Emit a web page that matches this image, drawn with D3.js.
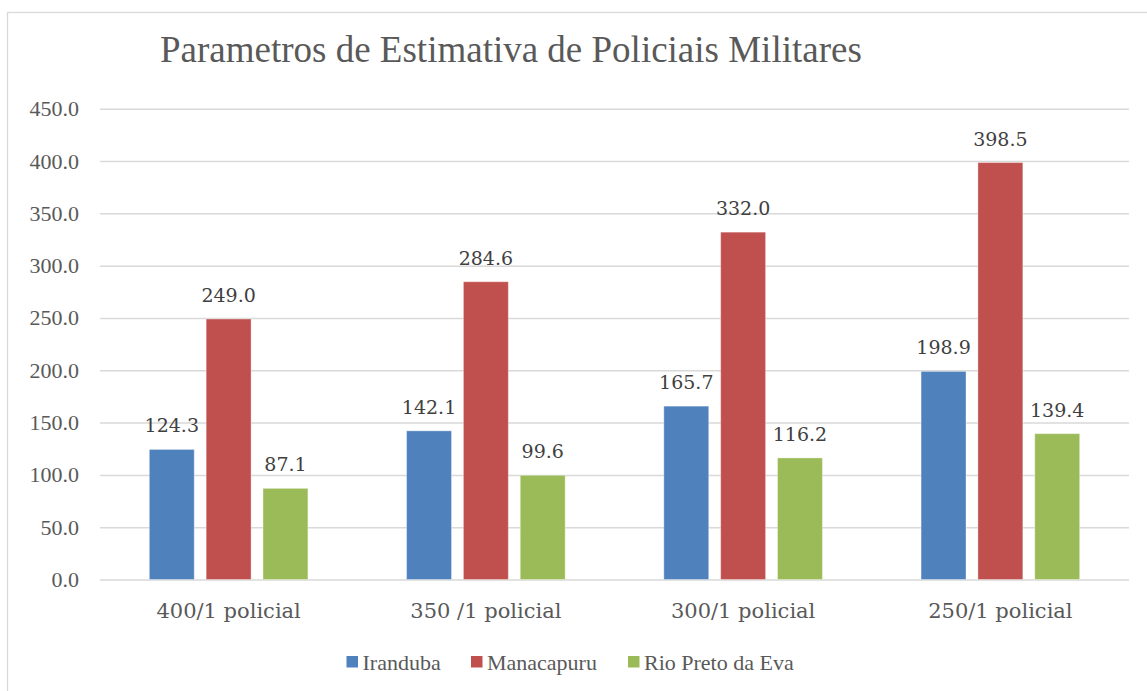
<!DOCTYPE html>
<html>
<head>
<meta charset="utf-8">
<script src="https://cdn.jsdelivr.net/npm/d3@7"></script>
<style>
  html, body { margin: 0; padding: 0; background: #fff; }
  svg { display: block; }
  .times { font-family: "Liberation Serif", "Times New Roman", Times, "DejaVu Serif", serif; }
  .cambria { font-family: "DejaVu Serif", "Liberation Serif", Georgia, serif; }
</style>
</head>
<body>
<div id="chart"></div>
<script>
// ---- data ----
const categories = ["400/1 policial", "350 /1 policial", "300/1 policial", "250/1 policial"];
const seriesNames = ["Iranduba", "Manacapuru", "Rio Preto da Eva"];
const iranduba = [124.3, 142.1, 165.7, 198.9];
const manacapuru = [249.0, 284.6, 332.0, 398.5];
const rioPreto = [87.1, 99.6, 116.2, 139.4];
const yTicks = [0, 50, 100, 150, 200, 250, 300, 350, 400, 450];
const colors = ["#4F81BD", "#C0504D", "#9BBB59"];

const seriesValues = [iranduba, manacapuru, rioPreto];

// ---- layout ----
const W = 1147, H = 691;
const plot = { left: 100, right: 1129, top: 108.7, bottom: 579.5 };

const svg = d3.select("#chart").append("svg")
  .attr("width", W)
  .attr("height", H);

// outer chart border (runs past the right / bottom of the picture)
svg.append("rect")
  .attr("x", 7.5).attr("y", 12.5)
  .attr("width", 1150).attr("height", 700)
  .attr("fill", "none")
  .attr("stroke", "#d9d9d9")
  .attr("stroke-width", 1.3);

// title
svg.append("text")
  .attr("class", "times")
  .attr("x", 160).attr("y", 62)
  .attr("font-size", 37)
  .attr("fill", "#595959")
  .text("Parametros de Estimativa de Policiais Militares");

// scales
const x0 = d3.scaleBand()
  .domain(categories)
  .range([plot.left, plot.right])
  .paddingInner(0.3835)
  .paddingOuter(0.19175);

const x1 = d3.scaleBand()
  .domain(seriesNames)
  .range([0, x0.bandwidth()])
  .paddingInner(0.21)
  .paddingOuter(0);

const y = d3.scaleLinear()
  .domain([0, 450])
  .range([plot.bottom, plot.top]);

// gridlines + y axis labels
const yAxis = d3.axisLeft(y)
  .tickValues(yTicks)
  .tickSize(-(plot.right - plot.left))
  .tickPadding(21)
  .tickFormat(d3.format(".1f"));

const gy = svg.append("g")
  .attr("transform", "translate(" + plot.left + ",0)")
  .call(yAxis);
gy.attr("font-family", null);
gy.select(".domain").remove();
gy.selectAll(".tick line")
  .attr("stroke", "#d9d9d9")
  .attr("stroke-width", 1.5);
gy.selectAll(".tick text")
  .attr("class", "times")
  .attr("font-size", 22)
  .attr("fill", "#595959");

// x axis category labels
const xAxis = d3.axisBottom(x0).tickSize(0).tickPadding(24);
const gx = svg.append("g")
  .attr("transform", "translate(0," + plot.bottom + ")")
  .call(xAxis);
gx.attr("font-family", null);
gx.select(".domain").remove();
gx.selectAll(".tick text")
  .attr("class", "cambria")
  .attr("font-size", 21)
  .attr("fill", "#595959");

// bars
const rows = categories.map((c, i) => ({
  cat: c,
  vals: seriesNames.map((s, j) => ({ series: s, idx: j, value: seriesValues[j][i] }))
}));

const groups = svg.append("g").selectAll("g")
  .data(rows)
  .enter().append("g")
  .attr("transform", d => "translate(" + x0(d.cat) + ",0)");

groups.selectAll("rect")
  .data(d => d.vals)
  .enter().append("rect")
  .attr("x", d => x1(d.series))
  .attr("y", d => y(d.value))
  .attr("width", x1.bandwidth())
  .attr("height", d => y(0) - y(d.value))
  .attr("fill", d => colors[d.idx])
  .attr("stroke", "#ffffff")
  .attr("stroke-opacity", 0.35)
  .attr("stroke-width", 1);

// data labels
groups.selectAll("text.lbl")
  .data(d => d.vals)
  .enter().append("text")
  .attr("class", "lbl cambria")
  .attr("x", d => x1(d.series) + x1.bandwidth() / 2)
  .attr("y", d => y(d.value) - 17)
  .attr("text-anchor", "middle")
  .attr("font-size", 19)
  .attr("fill", "#404040")
  .text(d => d.value.toFixed(1));

// legend
const legendX = [346.5, 471, 628];
const legend = svg.append("g").selectAll("g")
  .data(seriesNames)
  .enter().append("g")
  .attr("transform", (d, i) => "translate(" + legendX[i] + ",656)");
legend.append("rect")
  .attr("width", 11.5).attr("height", 11.5)
  .attr("fill", (d, i) => colors[i]);
legend.append("text")
  .attr("class", "times")
  .attr("x", 16).attr("y", 14)
  .attr("font-size", 22)
  .attr("fill", "#595959")
  .text(d => d);
</script>
</body>
</html>
